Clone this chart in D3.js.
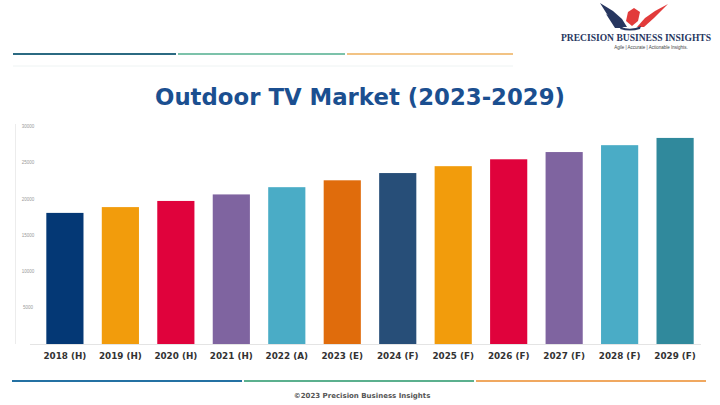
<!DOCTYPE html>
<html><head><meta charset="utf-8">
<script src="https://cdn.jsdelivr.net/npm/d3@7"></script>
<style>html,body{margin:0;padding:0;background:#fff;}svg{display:block;}</style>
</head><body>
<svg id="c" width="720" height="405"></svg>
<script>
const categories = ["2018 (H)","2019 (H)","2020 (H)","2021 (H)","2022 (A)","2023 (E)","2024 (F)","2025 (F)","2026 (F)","2027 (F)","2028 (F)","2029 (F)"];
const values = [18100, 18900, 19750, 20650, 21650, 22600, 23600, 24550, 25500, 26500, 27450, 28450];
const barColors = ["#043875","#f29c0c","#e0023c","#7f64a0","#4aacc6","#e06c0c","#274e78","#f29c0c","#e0023c","#7f64a0","#4aacc6","#30899c"];
const yTicks = [5000, 10000, 15000, 20000, 25000, 30000];
const title = "Outdoor TV Market (2023-2029)";

const svg = d3.select("#c");
const x = d3.scaleBand().domain(categories).range([38, 702]).paddingInner(0.33).paddingOuter(0.15);
const y = d3.scaleLinear().domain([0, 30000]).range([344, 126.7]);

// header lines
const hdr = [["#2b6a82",13,176],["#7cc2aa",178,345],["#f2c384",347,513]];
hdr.forEach(h=>svg.append("line").attr("x1",h[1]).attr("x2",h[2]).attr("y1",54).attr("y2",54).attr("stroke",h[0]).attr("stroke-width",2));
svg.append("line").attr("x1",13).attr("x2",513).attr("y1",66).attr("y2",66).attr("stroke","#eef3f3").attr("stroke-width",1);

// logo
const logo = svg.append("g");
logo.append("path").attr("d","M600,3 L613,11 L622,19 L627,27 L619,27 L610,19 Z").attr("fill","#27365f");
logo.append("path").attr("d","M606,14 L617,21 L623,28 L615,28 Z").attr("fill","#27365f");
logo.append("path").attr("d","M668,4 L655,11 L645,18 L637,27 L644,27 L654,18 Z").attr("fill","#e23b3b");
logo.append("path").attr("d","M628,12 L634,8 L640,12 L638,21 L632,26 L626,21 Z").attr("fill","#e23b3b");
logo.append("path").attr("d","M621,27 Q631,31 641,26 L640,29 Q630,32 620,29 Z").attr("fill","#27365f");
svg.append("text").attr("x",636).attr("y",41).attr("text-anchor","middle")
  .attr("font-family","Liberation Serif").attr("font-weight","bold").attr("font-size",10).attr("fill","#27365f")
  .attr("textLength",150).attr("lengthAdjust","spacingAndGlyphs").text("PRECISION BUSINESS INSIGHTS");
svg.append("text").attr("x",651).attr("y",48.5).attr("text-anchor","middle")
  .attr("font-family","Liberation Sans").attr("font-size",4.5).attr("fill","#444")
  .text("Agile | Accurate | Actionable Insights.");

// title
svg.append("text").attr("x",360).attr("y",105).attr("text-anchor","middle")
  .attr("font-family","DejaVu Sans").attr("font-weight","bold").attr("font-size",23).attr("fill","#1b4f90")
  .attr("textLength",410).attr("lengthAdjust","spacingAndGlyphs").text(title);

// axes
svg.append("line").attr("x1",15.5).attr("x2",15.5).attr("y1",124).attr("y2",344).attr("stroke","#ececec");
svg.append("line").attr("x1",30).attr("x2",701).attr("y1",344.5).attr("y2",344.5).attr("stroke","#e4e4e4");
svg.append("g").selectAll("text").data(yTicks).join("text")
  .attr("x",28).attr("y",d=>y(d)+1.5).attr("text-anchor","middle")
  .attr("font-family","Liberation Sans").attr("font-size",4.5).attr("fill","#9a9a9a").text(d=>d);

// bars
svg.append("g").selectAll("rect").data(values).join("rect")
  .attr("x",(d,i)=>x(categories[i])).attr("width",x.bandwidth())
  .attr("y",d=>y(d)).attr("height",d=>y(0)-y(d))
  .attr("fill",(d,i)=>barColors[i]);

// category labels
const xa = svg.append("g").attr("transform","translate(0,344)").call(d3.axisBottom(x).tickSize(0).tickPadding(0));
xa.select(".domain").remove();
xa.selectAll("text").attr("dy",0).attr("y",15).attr("font-family","DejaVu Sans").attr("font-weight","bold")
  .attr("font-size",8.8).attr("fill","#333");

// footer lines
const ftr = [["#2471a3",12,242],["#5bb08e",244,474],["#f0a860",476,706]];
ftr.forEach(h=>svg.append("line").attr("x1",h[1]).attr("x2",h[2]).attr("y1",381).attr("y2",381).attr("stroke",h[0]).attr("stroke-width",2));
svg.append("text").attr("x",362).attr("y",398).attr("text-anchor","middle")
  .attr("font-family","DejaVu Sans").attr("font-weight","bold").attr("font-size",7).attr("fill","#555")
  .text("©2023 Precision Business Insights");
</script>
</body></html>
